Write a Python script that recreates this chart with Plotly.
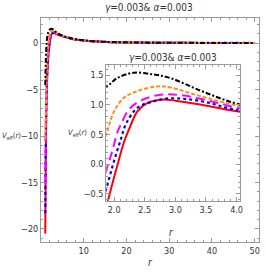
import plotly.graph_objects as go

# ---- data ----
r_red = [1.0, 1.1, 1.2, 1.3, 1.4, 1.5, 1.6, 1.7, 1.8, 1.92, 2.05, 2.16, 2.24, 2.38, 2.54, 2.81, 3.0, 3.38, 4.0,
         5, 6, 7, 8, 10, 12, 15, 20, 25, 30, 40, 50]
v_red = [-20.5, -13.5, -9.0, -6.3, -4.5, -3.2, -2.3, -1.6, -1.05, -0.53, -0.03, 0.37, 0.58, 0.89, 1.03, 1.09, 1.07, 1.01, 0.89,
         0.74, 0.59, 0.48, 0.39, 0.27, 0.19, 0.125, 0.072, 0.046, 0.032, 0.018, 0.011]

r_blue = [1.0, 1.1, 1.2, 1.3, 1.4, 1.5, 1.6, 1.7, 1.8, 1.9, 2.0, 2.11, 2.19, 2.38, 2.65, 2.92, 3.43, 4.0,
          5, 6, 7, 8, 10, 12, 15, 20, 25, 30, 40, 50]
v_blue = [-18.3, -11.8, -7.8, -5.3, -3.7, -2.6, -1.8, -1.15, -0.7, -0.31, 0.06, 0.42, 0.67, 0.95, 1.06, 1.11, 1.06, 0.91,
          0.75, 0.6, 0.49, 0.4, 0.28, 0.195, 0.128, 0.074, 0.047, 0.033, 0.019, 0.012]

r_mag = [1.0, 1.1, 1.2, 1.3, 1.4, 1.5, 1.6, 1.7, 1.8, 1.92, 1.97, 2.05, 2.11, 2.24, 2.43, 2.76, 3.11, 3.7, 4.0,
         5, 6, 7, 8, 10, 12, 15, 20, 25, 30, 40, 50]
v_mag = [-15.2, -10.2, -6.8, -4.6, -3.1, -2.1, -1.35, -0.8, -0.35, 0.06, 0.22, 0.53, 0.67, 0.92, 1.07, 1.17, 1.16, 1.03, 0.95,
         0.77, 0.61, 0.5, 0.41, 0.285, 0.2, 0.13, 0.075, 0.048, 0.034, 0.019, 0.012]

r_orange = [1.0, 1.1, 1.2, 1.3, 1.4, 1.5, 1.6, 1.7, 1.8, 1.9, 2.0, 2.16, 2.38, 2.7, 2.92, 3.43, 4.0,
            5, 6, 7, 8, 10, 12, 15, 20, 25, 30, 40, 50]
v_orange = [-10.4, -8.0, -5.9, -4.1, -2.7, -1.6, -0.8, -0.2, 0.25, 0.6, 0.89, 1.12, 1.23, 1.31, 1.29, 1.14, 0.99,
            0.79, 0.63, 0.51, 0.42, 0.29, 0.2, 0.13, 0.076, 0.049, 0.034, 0.019, 0.012]

r_black = [1.0, 1.1, 1.2, 1.3, 1.4, 1.5, 1.6, 1.7, 1.8, 1.92, 2.05, 2.32, 2.65, 2.92, 3.43, 4.0,
           5, 6, 7, 8, 10, 12, 15, 20, 25, 30, 40, 50]
v_black = [-4.5, -2.3, -0.9, -0.1, 0.45, 0.8, 1.0, 1.15, 1.26, 1.34, 1.45, 1.54, 1.51, 1.45, 1.23, 1.02,
           0.81, 0.65, 0.53, 0.43, 0.3, 0.21, 0.135, 0.078, 0.05, 0.035, 0.02, 0.012]

main_xticks = [10, 20, 30, 40, 50]
main_yticks = [0, -5, -10, -15, -20]
inset_xticks = [2.0, 2.5, 3.0, 3.5, 4.0]
inset_yticks = [-0.5, 0.0, 0.5, 1.0, 1.5]
title_text = "<i>γ</i>=0.003& <i>α</i>=0.003"

series = [
    (r_red, v_red, "red", dict(width=2, dash="solid")),
    (r_blue, v_blue, "blue", dict(width=2.2, dash="dot")),
    (r_mag, v_mag, "magenta", dict(width=2, dash="9px,5px")),
    (r_orange, v_orange, "#ff8c1a", dict(width=2, dash="4px,2px")),
    (r_black, v_black, "black", dict(width=2, dash="5px,2px,2px,2px")),
]

FONT = "DejaVu Sans Condensed, Liberation Sans Narrow, sans-serif"
fig = go.Figure()
for xs, ys, col, st in series:
    fig.add_trace(go.Scatter(x=xs, y=ys, mode="lines", line=dict(color=col, shape="spline", **st),
                             xaxis="x", yaxis="y", showlegend=False, hoverinfo="skip"))
for xs, ys, col, st in series:
    fig.add_trace(go.Scatter(x=xs, y=ys, mode="lines", line=dict(color=col, shape="spline", **st),
                             xaxis="x2", yaxis="y2", showlegend=False, hoverinfo="skip"))

axcommon = dict(showline=True, linecolor="#9a9a9a", linewidth=1, mirror="allticks", ticks="inside",
                tickcolor="#9a9a9a", ticklen=4, showgrid=False, zeroline=False,
                tickfont=dict(family=FONT, size=9, color="#333"))

fig.update_layout(
    width=266, height=280,
    margin=dict(l=41, r=4, t=18, b=38),
    paper_bgcolor="white", plot_bgcolor="white",
    font=dict(family=FONT, size=9, color="#333"),
    xaxis=dict(domain=[0, 1], range=[0, 51], tickvals=main_xticks, ticklabeloverflow="allow",
               minor=dict(dtick=2, tick0=0, ticklen=2, ticks="inside", tickcolor="#9a9a9a"), **axcommon),
    yaxis=dict(domain=[0, 1], range=[-21.4, 2.7], tickvals=main_yticks,
               minor=dict(dtick=1, tick0=0, ticklen=2, ticks="inside", tickcolor="#9a9a9a"), **axcommon),
    xaxis2=dict(domain=[0.299, 0.914], anchor="y2", range=[1.87, 4.06], tickvals=inset_xticks,
                tickformat=".1f",
                minor=dict(dtick=0.1, tick0=0, ticklen=2, ticks="inside", tickcolor="#9a9a9a"), **axcommon),
    yaxis2=dict(domain=[0.183, 0.79], anchor="x2", range=[-0.62, 1.67], tickvals=inset_yticks,
                tickformat=".1f",
                minor=dict(dtick=0.1, tick0=0, ticklen=2, ticks="inside", tickcolor="#9a9a9a"), **axcommon),
)

def ann(text, x, y, size=10):
    fig.add_annotation(text=text, x=x, y=y, xref="paper", yref="paper", xanchor="center",
                       yanchor="middle", showarrow=False, font=dict(family=FONT, size=size, color="#333"))

W, H = 266 - 45, 280 - 56
def px(xp, yp):
    return (xp - 41) / W, (242 - yp) / H

ann(title_text, *px(150, 8), size=10)
ann("<i>r</i>", *px(152, 262), size=10)
ann("<i>V</i><sub>eff</sub>(<i>r</i>)", *px(11, 136), size=7.5)
ann(title_text, *px(175, 57), size=10)
ann("<i>r</i>", *px(173, 232), size=10)
ann("<i>V</i><sub>eff</sub>(<i>r</i>)", *px(78, 133), size=7.5)

fig.write_html("out.html", config={"displayModeBar": False},
               post_script="document.body.style.margin='0';document.body.style.overflow='hidden';")
